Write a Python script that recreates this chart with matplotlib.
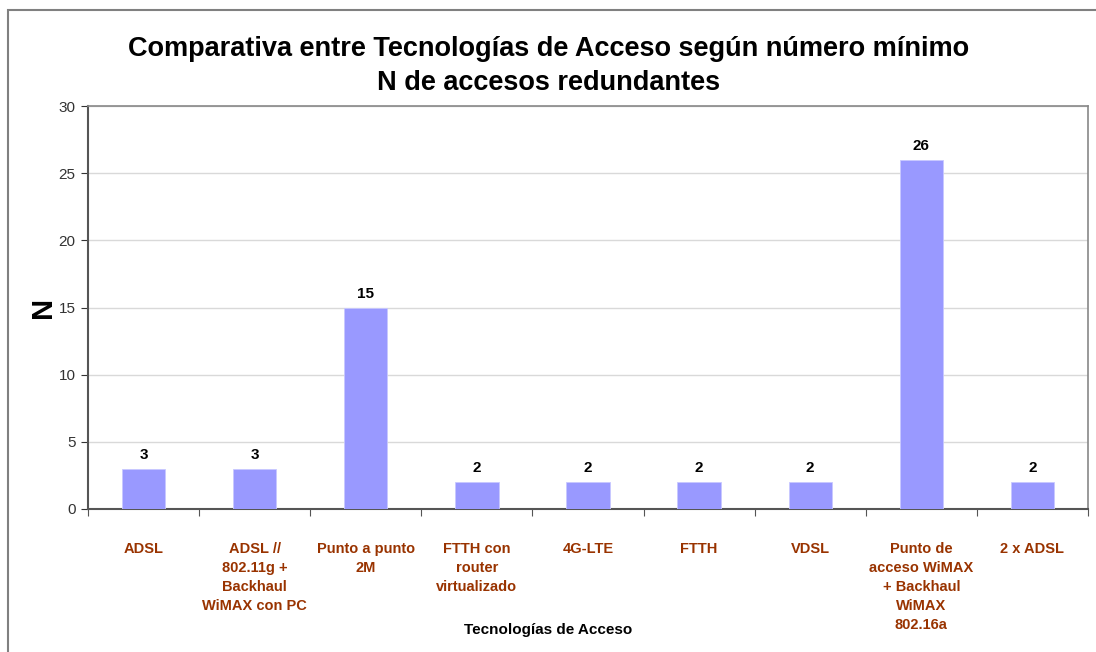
import matplotlib
matplotlib.use("Agg")
import matplotlib.pyplot as plt
from matplotlib.patches import Rectangle

# data
categorias = ["ADSL", "ADSL //\n802.11g +\nBackhaul\nWiMAX con PC", "Punto a punto\n2M",
              "FTTH con\nrouter\nvirtualizado", "4G-LTE", "FTTH", "VDSL",
              "Punto de\nacceso WiMAX\n+ Backhaul\nWiMAX\n802.16a", "2 x ADSL"]
valores = [3, 3, 15, 2, 2, 2, 2, 26, 2]
yticks = [0, 5, 10, 15, 20, 25, 30]

plt.rcParams['font.family'] = ['Liberation Sans', 'DejaVu Sans']

W, H = 1096, 652
fig = plt.figure(figsize=(W / 100, H / 100), dpi=100)
ax = fig.add_axes([88 / W, 1 - 509 / H, 1000 / W, 403 / H])

# figure frame
fig.patches.append(Rectangle((8 / W, -0.1), 1.2, 1 - 10 / H + 0.1, transform=fig.transFigure,
                             fill=False, edgecolor='#808080', linewidth=1.5))

x = range(len(valores))
ax.bar(x, valores, width=0.39, color='#9999FF', edgecolor='#C8C8FF', linewidth=0.6, zorder=3)
for i, v in enumerate(valores):
  ax.text(i, v + 0.5, str(v), ha='center', va='bottom', fontsize=11, fontweight='bold')

ax.set_xlim(-0.5, len(valores) - 0.5)
ax.set_ylim(0, 30)
ax.set_yticks(yticks)
ax.yaxis.grid(True, color='#D9D9D9', linewidth=1, zorder=0)
ax.tick_params(axis='y', direction='out', length=5, labelsize=11, colors='#333333', pad=4)

ax.set_xticks([i + 0.5 for i in range(-1, len(valores))], minor=False)
ax.set_xticklabels([])
ax.tick_params(axis='x', direction='out', length=5, color='#555555')
ax.set_xticks(list(x), minor=True)
ax.set_xticklabels(categorias, minor=True, fontsize=10.5, fontweight='bold',
                   color='#993300', va='top', linespacing=1.45)
ax.tick_params(axis='x', which='minor', length=0, pad=24)

for s in ['left', 'bottom']:
  ax.spines[s].set_color('#555555')
  ax.spines[s].set_linewidth(1.5)
for s in ['top', 'right']:
  ax.spines[s].set_color('#888888')
  ax.spines[s].set_linewidth(1.2)

ax.set_ylabel("N", fontsize=21, fontweight='bold', labelpad=1)
fig.text(0.5, 1 - 630 / H, "Tecnologías de Acceso", ha='center', va='center',
         fontsize=11, fontweight='bold')
fig.text(549 / W, 1 - 66 / H, "Comparativa entre Tecnologías de Acceso según número mínimo\nN de accesos redundantes",
         ha='center', va='center', fontsize=19.5, fontweight='bold', linespacing=1.4)

fig.savefig("out.png", dpi=100)
